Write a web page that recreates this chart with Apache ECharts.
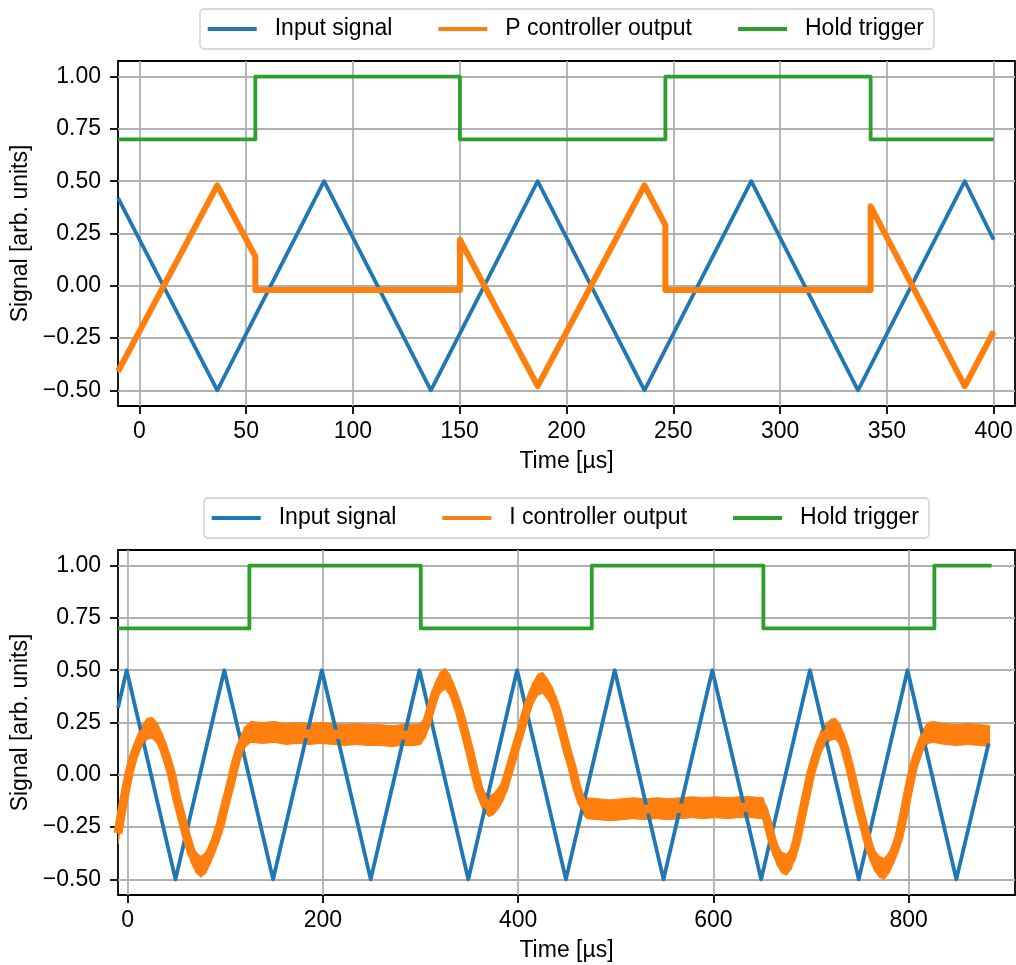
<!DOCTYPE html>
<html>
<head>
<meta charset="utf-8">
<script src="https://cdn.jsdelivr.net/npm/echarts@6/dist/echarts.min.js"></script>
<style>
  html, body { margin: 0; padding: 0; background: #ffffff; }
  #chart { width: 1016px; height: 965px; }
</style>
</head>
<body>
<div id="chart"></div>
<script>
// ---- Upper panel: P controller response (time in µs) ----
const pInputT = [-10, 36.5, 86.5, 136.5, 186.5, 236.5, 286.5, 336.5, 386.5, 400];
const pInputV = [0.42, -0.5, 0.5, -0.5, 0.5, -0.5, 0.5, -0.5, 0.5, 0.22];

const pOutT = [-10, 36.5, 54.3, 54.3, 150.1, 150.1, 186.5, 236.5, 246.3, 246.3, 342.4, 342.4, 386.5, 400];
const pOutV = [-0.41, 0.48, 0.14, -0.02, -0.02, 0.22, -0.48, 0.48, 0.29, -0.02, -0.02, 0.38, -0.48, -0.22];

const pHoldT = [-10, 54.3, 150.1, 246.3, 342.4, 400];
const pHoldV = [0.7, 1.0, 0.7, 1.0, 0.7, 0.7];

// ---- Lower panel: I controller response ----
const iInputT = [-10, -1.1, 48.9, 98.9, 148.9, 198.9, 248.9, 298.9, 348.9, 398.9, 448.9,
                 498.9, 548.9, 598.9, 648.9, 698.9, 748.9, 798.9, 848.9, 882];
const iInputV = [0.32, 0.5, -0.5, 0.5, -0.5, 0.5, -0.5, 0.5, -0.5, 0.5, -0.5,
                 0.5, -0.5, 0.5, -0.5, 0.5, -0.5, 0.5, -0.5, 0.15];

const iOutT = [-10, -6, -2, 2, 6, 10, 15, 20, 25, 30, 35, 40, 45, 50, 55, 60, 65, 70, 75, 80,
               85, 90, 95, 100, 105, 110, 115, 120, 126,
               138, 150, 162, 174, 186, 198, 210, 222, 234, 246, 258, 270, 282, 294, 300,
               305, 310, 315, 320, 325, 330, 335, 340, 345, 350, 355, 360, 365, 370, 375, 380,
               385, 390, 395, 400, 405, 410, 415, 420, 425, 430, 435, 440, 445, 450, 455, 460, 465, 470,
               482, 494, 506, 518, 530, 542, 554, 566, 578, 590, 602, 614, 626, 638, 651,
               655, 660, 665, 670, 675, 680, 685, 690, 695, 700, 705, 710, 715, 720, 725, 730,
               735, 740, 745, 750, 755, 760, 765, 770, 775, 780, 785, 790, 795, 800, 805, 810,
               815, 820, 825, 837, 849, 861, 873, 883];
const iOutV = [-0.28, -0.17, -0.07, 0.02, 0.09, 0.14, 0.19, 0.22, 0.225, 0.2, 0.15, 0.08, 0.0, -0.11, -0.2, -0.29, -0.37, -0.42, -0.44, -0.42,
               -0.37, -0.31, -0.235, -0.14, -0.05, 0.05, 0.13, 0.18, 0.205,
               0.2, 0.205, 0.195, 0.2, 0.195, 0.2, 0.195, 0.19, 0.195, 0.19, 0.19, 0.185, 0.19, 0.19, 0.195,
               0.23, 0.31, 0.39, 0.44, 0.46, 0.43, 0.37, 0.3, 0.21, 0.12, 0.02, -0.07, -0.13, -0.15, -0.14, -0.11,
               -0.07, 0.01, 0.09, 0.17, 0.25, 0.33, 0.39, 0.43, 0.44, 0.41, 0.37, 0.3, 0.21, 0.12, 0.04, -0.06, -0.13, -0.16,
               -0.165, -0.17, -0.165, -0.16, -0.165, -0.16, -0.165, -0.16, -0.155, -0.16, -0.155, -0.16, -0.155, -0.155, -0.16,
               -0.22, -0.31, -0.38, -0.42, -0.43, -0.4, -0.32, -0.21, -0.1, 0.01, 0.09, 0.16, 0.19, 0.215, 0.22, 0.19,
               0.12, 0.03, -0.07, -0.17, -0.26, -0.35, -0.41, -0.44, -0.45, -0.42, -0.37, -0.3, -0.19, -0.07, 0.04, 0.11,
               0.17, 0.2, 0.205, 0.195, 0.19, 0.195, 0.19, 0.185];

const iHoldT = [-10, 124.6, 300.2, 475.4, 651.2, 826.4, 885];
const iHoldV = [0.7, 1.0, 0.7, 1.0, 0.7, 1.0, 1.0];

// ---- Tick positions ----
const pTimeTicks = [0, 50, 100, 150, 200, 250, 300, 350, 400];
const iTimeTicks = [0, 200, 400, 600, 800];
const signalTicks = [-0.5, -0.25, 0, 0.25, 0.5, 0.75, 1.0];

// ---- Styling ----
const BLUE = '#1f77b4', ORANGE = '#ff7f0e', GREEN = '#2ca02c';
const FONT = "'Liberation Sans', Arial, Helvetica, sans-serif";
const FS = 23;
const LW = 3.8;
const GRID_LINE = '#b0b0b0';

const zip = (t, v) => t.map((x, k) => [x, v[k]]);

// Noise envelope drawn as a filled band around the controller output trace
function bandRenderer(t, v, half) {
  return function (params, api) {
    const i = params.dataIndex;
    if (i >= t.length - 1) return null;
    const p = [
      api.coord([t[i], v[i] + half]),
      api.coord([t[i + 1], v[i + 1] + half]),
      api.coord([t[i + 1], v[i + 1] - half]),
      api.coord([t[i], v[i] - half])
    ];
    return {
      type: 'polygon',
      shape: { points: p },
      style: { fill: ORANGE, stroke: ORANGE, lineWidth: 1 }
    };
  };
}

function xAxisFor(gridIndex, min, max, ticks) {
  return {
    type: 'value', gridIndex, min, max, position: 'bottom',
    name: 'Time [µs]', nameLocation: 'middle', nameGap: 44,
    nameTextStyle: { fontFamily: FONT, fontSize: FS, color: '#000' },
    axisLine: { show: false, onZero: false },
    axisTick: { show: true, inside: false, length: 8, customValues: ticks,
                lineStyle: { color: '#000', width: 1.8 } },
    axisLabel: { customValues: ticks, margin: 14, fontFamily: FONT, fontSize: FS, color: '#000' },
    splitLine: { show: true, lineStyle: { color: GRID_LINE, width: 1.8 } }
  };
}

function yAxisFor(gridIndex) {
  return {
    type: 'value', gridIndex, min: -0.575, max: 1.075, position: 'left',
    name: 'Signal [arb. units]', nameLocation: 'middle', nameGap: 85,
    nameTextStyle: { fontFamily: FONT, fontSize: FS, color: '#000' },
    axisLine: { show: false, onZero: false },
    axisTick: { show: true, inside: false, length: 8, customValues: signalTicks,
                lineStyle: { color: '#000', width: 1.8 } },
    axisLabel: {
      customValues: signalTicks, margin: 17, fontFamily: FONT, fontSize: FS, color: '#000',
      formatter: val => (val < 0 ? '\u2212' : '') + Math.abs(val).toFixed(2)
    },
    splitLine: { show: true, lineStyle: { color: GRID_LINE, width: 1.8 } }
  };
}

function legendFor(top, left, names) {
  return {
    top, left, orient: 'horizontal',
    data: names,
    icon: 'rect', itemWidth: 49, itemHeight: 4, itemGap: 46,
    padding: [8.5, 10, 8.5, 7.7],
    borderColor: '#cccccc', borderWidth: 1.3, borderRadius: 4,
    backgroundColor: 'rgba(255,255,255,0.8)',
    textStyle: { fontFamily: FONT, fontSize: FS, color: '#000', padding: [0, 0, 0, 13] },
    selectedMode: false
  };
}

const lineSeries = (name, xi, data, color, width, extra) => Object.assign({
  name, type: 'line', xAxisIndex: xi, yAxisIndex: xi, data,
  showSymbol: false, symbol: 'none', clip: true,
  lineStyle: { color, width, cap: 'butt', join: 'round' },
  itemStyle: { color }, emphasis: { disabled: true }, silent: true
}, extra || {});

const bandSeries = (name, xi, t, v, half) => ({
  name, type: 'custom', xAxisIndex: xi, yAxisIndex: xi,
  data: zip(t, v), encode: { x: 0, y: 1 }, clip: true, silent: true,
  itemStyle: { color: ORANGE },
  renderItem: bandRenderer(t, v, half)
});

const option = {
  animation: false,
  backgroundColor: '#ffffff',
  textStyle: { fontFamily: FONT },
  grid: [
    { left: 118, top: 61, width: 897, height: 345, show: true, borderColor: '#000', borderWidth: 1.8, backgroundColor: 'transparent' },
    { left: 118, top: 550, width: 897, height: 345, show: true, borderColor: '#000', borderWidth: 1.8, backgroundColor: 'transparent' }
  ],
  legend: [
    legendFor(9, 200, ['Input signal', 'P controller output', 'Hold trigger']),
    legendFor(498, 204, ['Input signal', 'I controller output', 'Hold trigger'])
  ],
  xAxis: [xAxisFor(0, -10, 410, pTimeTicks), xAxisFor(1, -10, 909, iTimeTicks)],
  yAxis: [yAxisFor(0), yAxisFor(1)],
  series: [
    lineSeries('Input signal', 0, zip(pInputT, pInputV), BLUE, LW),
    lineSeries('P controller output', 0, zip(pOutT, pOutV), ORANGE, 6),
    bandSeries('P controller output', 0, pOutT, pOutV, 0.006),
    lineSeries('Hold trigger', 0, zip(pHoldT, pHoldV), GREEN, LW, { step: 'end' }),

    lineSeries('Input signal', 1, zip(iInputT, iInputV), BLUE, LW),
    lineSeries('I controller output', 1, zip(iOutT, iOutV), ORANGE, 9),
    bandSeries('I controller output', 1, iOutT, iOutV, 0.05),
    lineSeries('Hold trigger', 1, zip(iHoldT, iHoldV), GREEN, LW, { step: 'end' })
  ]
};

const chart = echarts.init(document.getElementById('chart'), null, { renderer: 'canvas' });
chart.setOption(option);
</script>
</body>
</html>
